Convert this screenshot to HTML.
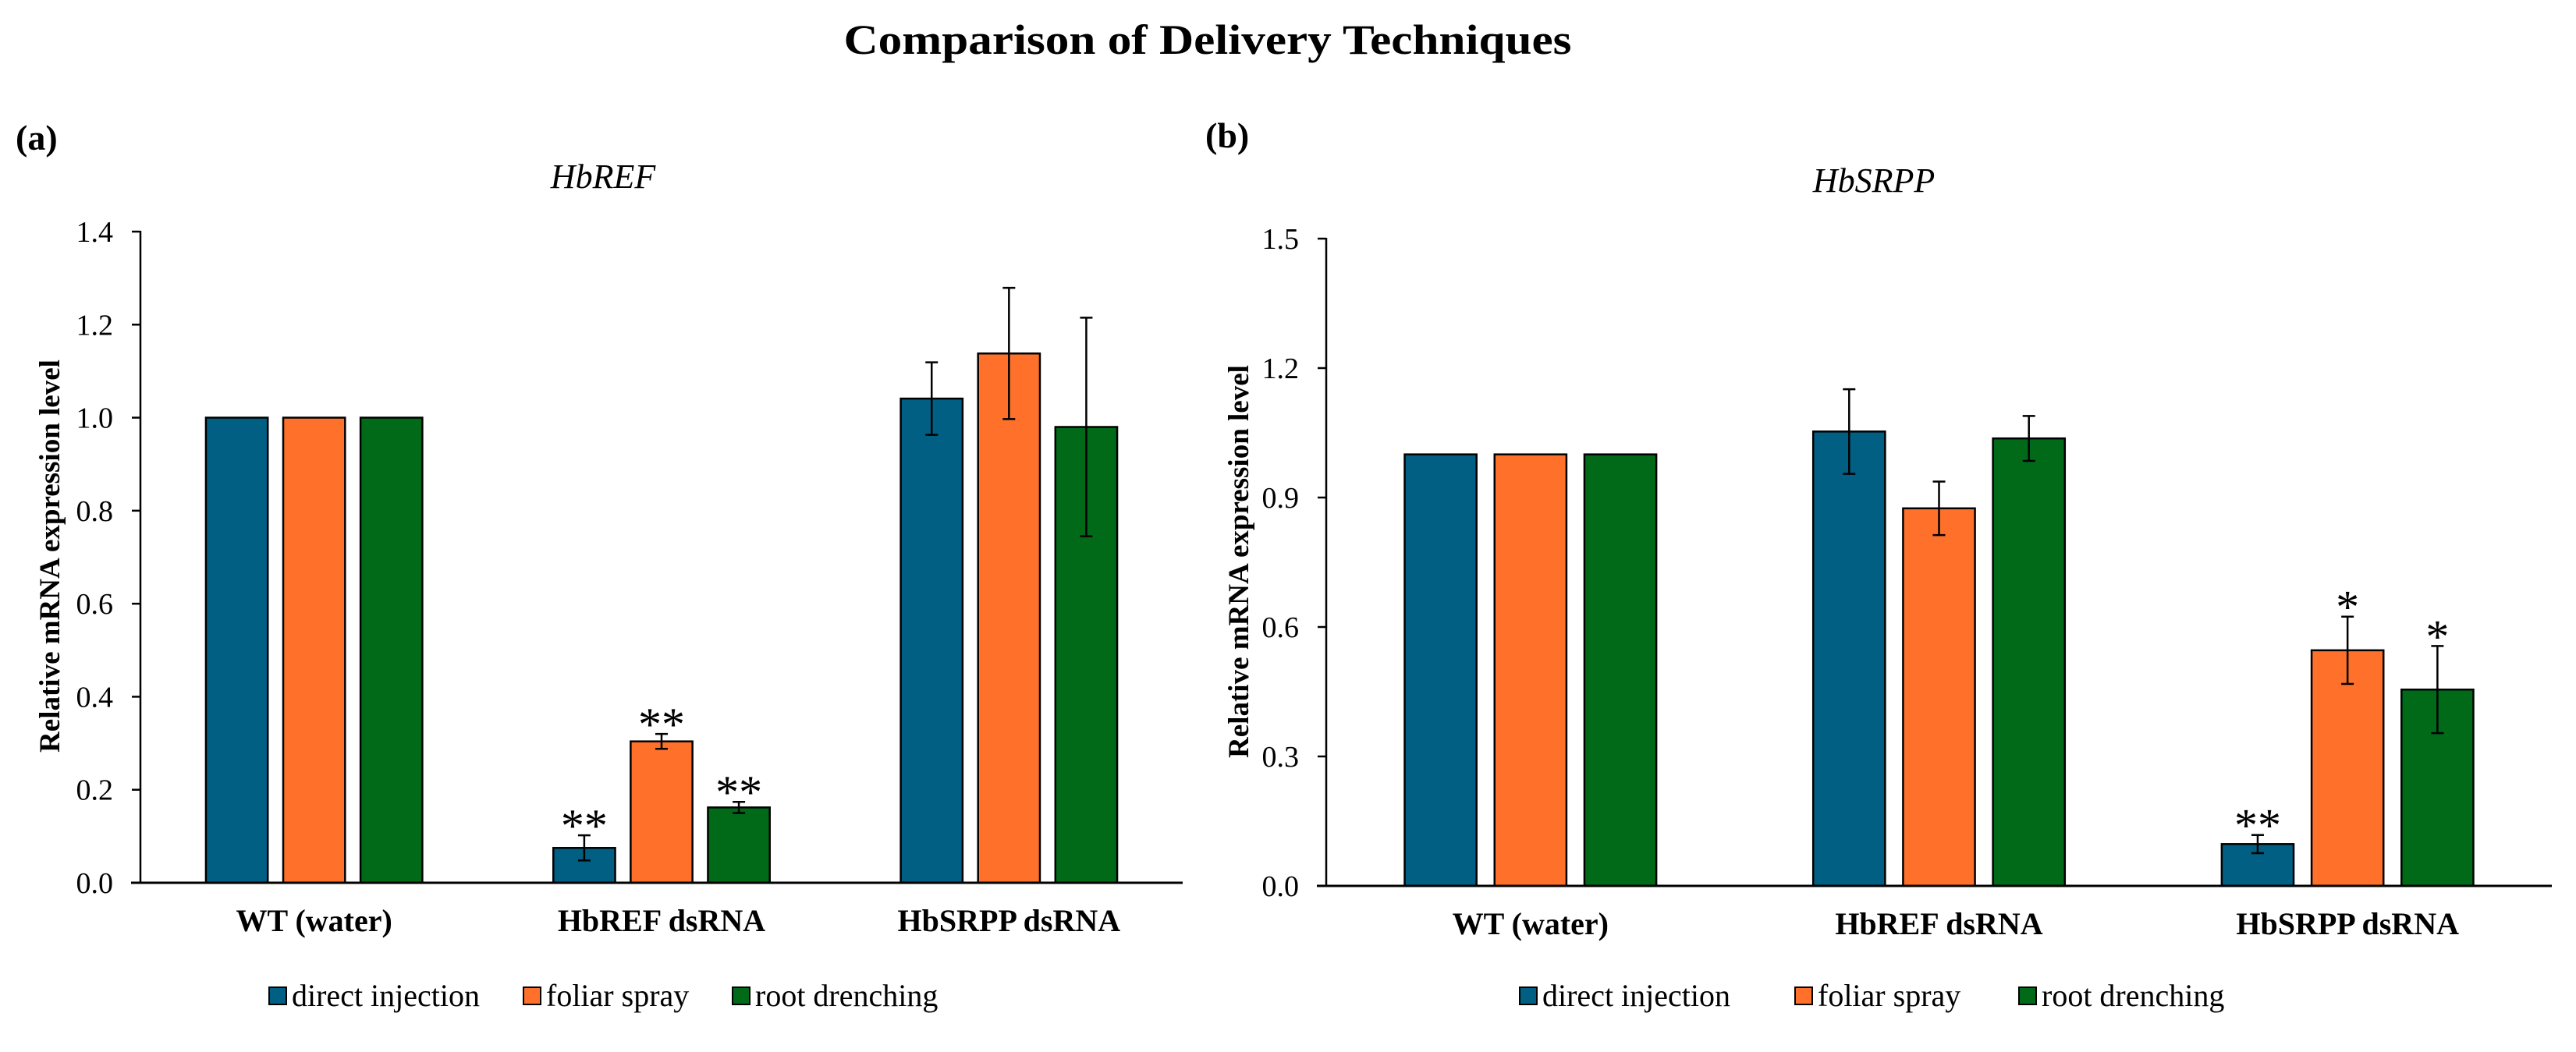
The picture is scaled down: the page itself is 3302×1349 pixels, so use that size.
<!DOCTYPE html>
<html><head><meta charset="utf-8"><style>
html,body{margin:0;padding:0;background:#fff;}
svg, svg text{font-family:"Liberation Serif","Times New Roman",serif;}
</style></head><body>
<svg id="fig" width="3302" height="1344" viewBox="0 0 3302 1344" font-family="Liberation Serif, serif">
<text x="1548" y="69" text-anchor="middle" font-size="54" font-weight="bold" font-family="Liberation Serif, serif" textLength="933" lengthAdjust="spacingAndGlyphs">Comparison of Delivery Techniques</text>
<text x="20" y="192" font-size="46" font-weight="bold" font-family="Liberation Serif, serif">(a)</text>
<text x="1545" y="189" font-size="46" font-weight="bold" font-family="Liberation Serif, serif">(b)</text>
<g id="chartA" font-family="Liberation Serif, serif"></g>
<g id="chartB" font-family="Liberation Serif, serif"></g>
</svg>
<script>
const categories = ["WT (water)", "HbREF dsRNA", "HbSRPP dsRNA"];
const seriesNames = ["direct injection", "foliar spray", "root drenching"];
const colors = ["#005f83", "#ff712b", "#006a18"];
// Panel a: HbREF
const aDirect = [1.0, 0.075, 1.041];
const aFoliar = [1.0, 0.304, 1.138];
const aRoot = [1.0, 0.162, 0.98];
const aDirectErr = [0, 0.027, 0.078];
const aFoliarErr = [0, 0.016, 0.141];
const aRootErr = [0, 0.012, 0.235];
const aStars = [["", "", ""], ["**", "**", "**"], ["", "", ""]];
const aTicks = ["0.0", "0.2", "0.4", "0.6", "0.8", "1.0", "1.2", "1.4"];
// Panel b: HbSRPP
const bDirect = [1.0, 1.053, 0.097];
const bFoliar = [1.0, 0.875, 0.546];
const bRoot = [1.0, 1.037, 0.455];
const bDirectErr = [0, 0.098, 0.021];
const bFoliarErr = [0, 0.062, 0.078];
const bRootErr = [0, 0.052, 0.101];
const bStars = [["", "", ""], ["", "", ""], ["**", "*", "*"]];
const bTicks = ["0.0", "0.3", "0.6", "0.9", "1.2", "1.5"];

const NS = "http://www.w3.org/2000/svg";
const FF = "Liberation Serif, serif";
function mk(parent, tag, attrs, text) {
  const e = document.createElementNS(NS, tag);
  for (const k in attrs) e.setAttribute(k, attrs[k]);
  if (tag === "text") e.setAttribute("font-family", FF);
  if (text !== undefined) e.textContent = text;
  parent.appendChild(e);
  return e;
}

function drawChart(g, cfg) {
  const x0 = cfg.x0, x1 = cfg.x1, yBase = cfg.yBase, yTop = cfg.yTop;
  const ticks = cfg.ticks;
  const yMax = parseFloat(ticks[ticks.length - 1]);
  const yS = v => yBase - (v / yMax) * (yBase - yTop);
  const catW = (x1 - x0) / categories.length;
  const xC = i => x0 + catW * (i + 0.5);
  const barW = catW * cfg.barFrac, step = barW * cfg.stepFrac;

  const gt = mk(g, "text", {x: cfg.gx, y: cfg.gy, "text-anchor": "middle", "font-size": 44, "font-style": "italic"}, cfg.gene);
  
  

  ticks.forEach(t => {
    const y = yS(parseFloat(t));
    const tk = mk(g, "line", {x1: x0 - 11, x2: x0, y1: y, y2: y, stroke: "#000", "stroke-width": 2.5});
    
    
    const tl = mk(g, "text", {x: x0 - 35, y: y + 13, "text-anchor": "end", "font-size": 38}, t);
    
    
  });

  const yt = mk(g, "text", {x: 0, y: 0, "text-anchor": "middle", "font-size": 37, "font-weight": "bold",
    transform: `translate(${cfg.titleX},${cfg.titleY}) rotate(-90)`}, "Relative mRNA expression level");
  
  

  const vals = [cfg.d, cfg.f, cfg.r], errs = [cfg.de, cfg.fe, cfg.re];
  categories.forEach((c, i) => {
    for (let s = 0; s < 3; s++) {
      const cx = xC(i) + (s - 1) * step;
      const v = vals[s][i], e = errs[s][i];
      const b = mk(g, "rect", {x: cx - barW / 2, y: yS(v), width: barW, height: yBase - yS(v), fill: colors[s], stroke: "#000", "stroke-width": 2.5});
      
      
      if (e > 0) {
        const eg = mk(g, "g", {stroke: "#000", "stroke-width": 2.5});
        
        
        mk(eg, "line", {x1: cx, x2: cx, y1: yS(v + e), y2: yS(v - e)});
        mk(eg, "line", {x1: cx - 8, x2: cx + 8, y1: yS(v + e), y2: yS(v + e)});
        mk(eg, "line", {x1: cx - 8, x2: cx + 8, y1: yS(v - e), y2: yS(v - e)});
      }
      const st = cfg.stars[i][s];
      if (st) {
        const sm = mk(g, "text", {x: cx, y: yS(v + e) + 8, "text-anchor": "middle", "font-size": 60}, st);
        
        
      }
    }
    const cl = mk(g, "text", {x: xC(i), y: yBase + 62, "text-anchor": "middle", "font-size": 40, "font-weight": "bold"}, c);
    
    
  });

  const ya = mk(g, "line", {x1: x0, x2: x0, y1: yTop - 1, y2: yBase, stroke: "#000", "stroke-width": 2.5});
  
  
  const xa = mk(g, "line", {x1: x0 - 12, x2: x1, y1: yBase, y2: yBase, stroke: "#000", "stroke-width": 3});
  
  

  const lg = mk(g, "g", {});
  
  
  seriesNames.forEach((n, s) => {
    const lx = cfg.legX[s];
    const ent = mk(lg, "g", {});
    
    
    mk(ent, "rect", {x: lx, y: cfg.legY - 12, width: 22, height: 22, fill: colors[s], stroke: "#000", "stroke-width": 2});
    mk(ent, "text", {x: lx + 29, y: cfg.legY + 12, "font-size": 40}, n);
  });
}

drawChart(document.getElementById("chartA"), {
  x0: 180, x1: 1516, yBase: 1132, yTop: 297, ticks: aTicks, barFrac: 0.178, stepFrac: 1.25,
  d: aDirect, f: aFoliar, r: aRoot, de: aDirectErr, fe: aFoliarErr, re: aRootErr, stars: aStars,
  gene: "HbREF", gx: 773, gy: 241, titleX: 76, titleY: 713, legX: [345, 671, 939], legY: 1278
});
drawChart(document.getElementById("chartB"), {
  x0: 1700, x1: 3271, yBase: 1136, yTop: 306, ticks: bTicks, barFrac: 0.176, stepFrac: 1.25,
  d: bDirect, f: bFoliar, r: bRoot, de: bDirectErr, fe: bFoliarErr, re: bRootErr, stars: bStars,
  gene: "HbSRPP", gx: 2402, gy: 246, titleX: 1600, titleY: 720, legX: [1948, 2301, 2588], legY: 1278
});
</script>
</body></html>
